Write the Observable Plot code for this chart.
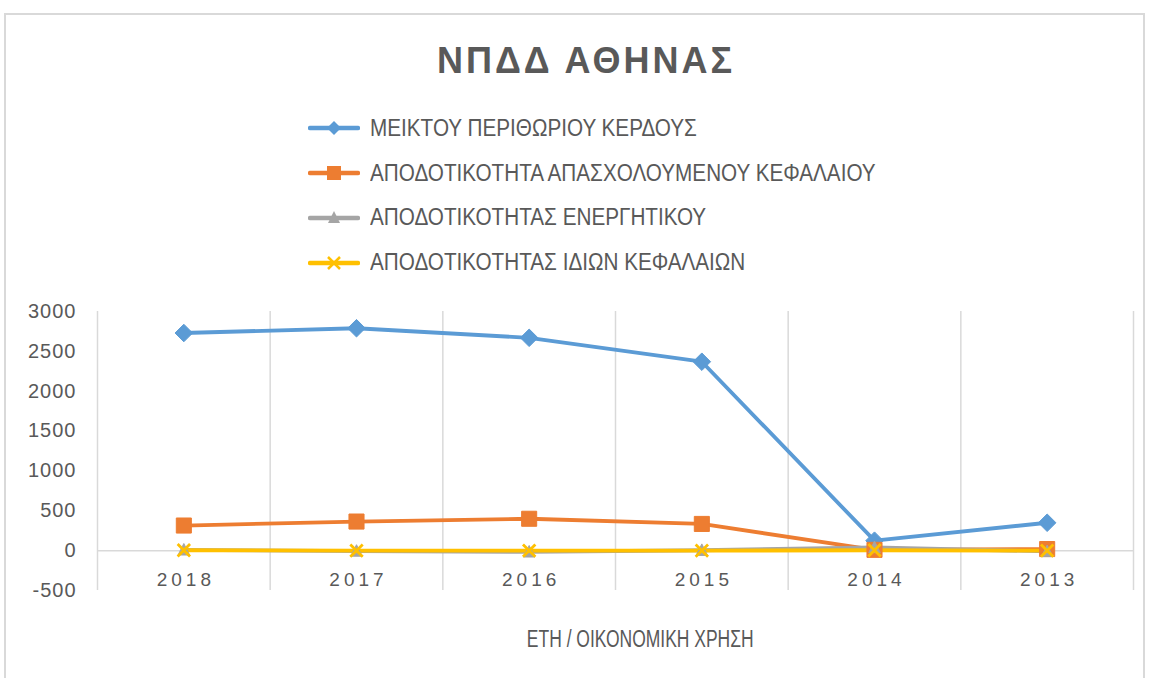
<!DOCTYPE html>
<html>
<head>
<meta charset="utf-8">
<script src="https://cdn.jsdelivr.net/npm/d3@7"></script>
<script src="https://cdn.jsdelivr.net/npm/@observablehq/plot@0.6"></script>
<style>
  html, body { margin: 0; padding: 0; background: #fff; }
  #chart { position: relative; width: 1149px; height: 678px; overflow: hidden; font-family: "Liberation Sans", Arial, sans-serif; color: #595959; }
  #frame { position: absolute; left: 4px; top: 13px; width: 1141px; height: 680px; border: 2px solid #D9D9D9; box-sizing: border-box; }
  #title { position: absolute; left: 0; width: 1172px; top: 41px; text-align: center; font-family: "Liberation Sans", sans-serif; font-weight: bold; font-size: 36px; line-height: 40px; letter-spacing: 3px; color: #595959; }
  #legend { position: absolute; left: 308px; top: 106px; }
  .lg { display: flex; align-items: center; height: 44.8px; }
  .lg svg { margin-right: 10px; flex: none; }
  .lg span { display: inline-block; white-space: nowrap; font-family: "Liberation Sans", sans-serif; font-size: 23px; color: #595959; transform: scaleX(0.9); transform-origin: left center; }
  #xtitle { position: absolute; left: 640px; top: 625px; width: 0; display: flex; justify-content: center; }
  #xtitle span { display: inline-block; white-space: nowrap; font-family: "Liberation Sans", sans-serif; font-size: 23px; line-height: 28px; transform: scaleX(0.76); transform-origin: center center; color: #595959; }
  #plot { position: absolute; left: 0; top: 0; }
  #plot svg g[aria-label^="y-axis"] text { letter-spacing: 1px; }
  #plot svg .xlabels text { letter-spacing: 4px; }
</style>
</head>
<body>
<div id="chart">
  <div id="frame"></div>
  <div id="plot"></div>
  <div id="title"></div>
  <div id="legend"></div>
  <div id="xtitle"><span></span></div>
</div>
<script>
// ---- data ----
const chartTitle = "ΝΠΔΔ ΑΘΗΝΑΣ";
const xAxisTitle = "ΕΤΗ / ΟΙΚΟΝΟΜΙΚΗ ΧΡΗΣΗ";
const years = ["2018", "2017", "2016", "2015", "2014", "2013"];
const seriesNames = [
  "ΜΕΙΚΤΟΥ ΠΕΡΙΘΩΡΙΟΥ ΚΕΡΔΟΥΣ",
  "ΑΠΟΔΟΤΙΚΟΤΗΤΑ ΑΠΑΣΧΟΛΟΥΜΕΝΟΥ ΚΕΦΑΛΑΙΟΥ",
  "ΑΠΟΔΟΤΙΚΟΤΗΤΑΣ ΕΝΕΡΓΗΤΙΚΟΥ",
  "ΑΠΟΔΟΤΙΚΟΤΗΤΑΣ ΙΔΙΩΝ ΚΕΦΑΛΑΙΩΝ"
];
const meiktouPerithoriou = [2730, 2790, 2670, 2370, 125, 350];
const apodotikotitaApasx = [315, 365, 400, 335, 10, 20];
const apodotikotitaEnerg = [10, -5, -15, 5, 40, -10];
const apodotikotitaIdion = [5, 0, 0, 0, 5, 0];
const yTicks = [-500, 0, 500, 1000, 1500, 2000, 2500, 3000];
const colors = ["#5B9BD5", "#ED7D31", "#A5A5A5", "#FFC000"];

const seriesValues = [meiktouPerithoriou, apodotikotitaApasx, apodotikotitaEnerg, apodotikotitaIdion];

// marker symbols
const diamondSym = { draw(ctx, size) { const r = Math.sqrt(size / 2); ctx.moveTo(0, -r); ctx.lineTo(r, 0); ctx.lineTo(0, r); ctx.lineTo(-r, 0); ctx.closePath(); } };
const squareSym = { draw(ctx, size) { const r = Math.sqrt(size) / 2; ctx.moveTo(-r, -r); ctx.lineTo(r, -r); ctx.lineTo(r, r); ctx.lineTo(-r, r); ctx.closePath(); } };
const triSym = { draw(ctx, size) { const r = Math.sqrt(size) / 2; ctx.moveTo(0, -r * 1.1); ctx.lineTo(r, r * 0.9); ctx.lineTo(-r, r * 0.9); ctx.closePath(); } };
const xSym = { draw(ctx, size) { const r = Math.sqrt(size) / 2; ctx.moveTo(-r, -r); ctx.lineTo(r, r); ctx.moveTo(r, -r); ctx.lineTo(-r, r); } };

const rows = seriesNames.flatMap((name, s) =>
  years.map((yr, i) => ({ series: name, s, xi: i + 0.5, value: seriesValues[s][i] })));
const bySeries = s => rows.filter(d => d.s === s);

const yearRows = years.map((yr, i) => ({ label: yr, xi: i + 0.5 }));
const edges = d3.range(years.length + 1);

const plot = Plot.plot({
  width: 1149,
  height: 678,
  marginLeft: 97,
  marginRight: 16,
  marginTop: 311,
  marginBottom: 88,
  style: { fontFamily: "'Liberation Sans', Arial, sans-serif", fontSize: "20px", color: "#595959", background: "transparent" },
  x: { type: "linear", domain: [0, years.length], axis: null },
  y: { domain: [yTicks[0], yTicks[yTicks.length - 1]], ticks: yTicks, tickSize: 0, tickPadding: 21, tickFormat: d => String(d), label: null },
  marks: [
    Plot.ruleX(edges, { stroke: "#D9D9D9", strokeWidth: 1.5 }),
    Plot.ruleY([0], { stroke: "#D9D9D9", strokeWidth: 1.5 }),
    Plot.text(yearRows, { x: "xi", y: () => 0, text: "label", dy: 29, dx: 2, fill: "#595959", fontSize: 19, className: "xlabels" }),
    ...[0, 1, 2, 3].map(s => Plot.line(bySeries(s), { x: "xi", y: "value", stroke: colors[s], strokeWidth: 3.8 })),
    Plot.dot(bySeries(0), { x: "xi", y: "value", symbol: diamondSym, r: 7, fill: colors[0], stroke: colors[0], strokeWidth: 1 }),
    Plot.dot(bySeries(1), { x: "xi", y: "value", symbol: squareSym, r: 8.5, fill: colors[1], stroke: colors[1], strokeWidth: 1 }),
    Plot.dot(bySeries(2), { x: "xi", y: "value", symbol: triSym, r: 6.5, fill: colors[2], stroke: colors[2], strokeWidth: 1 }),
    Plot.dot(bySeries(3), { x: "xi", y: "value", symbol: xSym, r: 7, fill: "none", stroke: colors[3], strokeWidth: 2.8 })
  ]
});
document.getElementById("plot").appendChild(plot);

document.getElementById("title").textContent = chartTitle;
document.querySelector("#xtitle span").textContent = xAxisTitle;

// legend
const legendMarkers = [
  c => `<path d="M26,3 L33,10 L26,17 L19,10 Z" fill="${c}"/>`,
  c => `<rect x="19" y="3" width="14" height="14" fill="${c}"/>`,
  c => `<path d="M26,3 L32,15 L20,15 Z" fill="${c}"/>`,
  c => `<path d="M20,4 L32,16 M32,4 L20,16" stroke="${c}" stroke-width="2.5"/>`
];
const legend = document.getElementById("legend");
seriesNames.forEach((name, s) => {
  const row = document.createElement("div");
  row.className = "lg";
  row.innerHTML = `<svg width="52" height="20"><line x1="2" y1="10" x2="50" y2="10" stroke="${colors[s]}" stroke-width="4.5" stroke-linecap="round"/>${legendMarkers[s](colors[s])}</svg><span></span>`;
  row.querySelector("span").textContent = name;
  legend.appendChild(row);
});
</script>
</body>
</html>
